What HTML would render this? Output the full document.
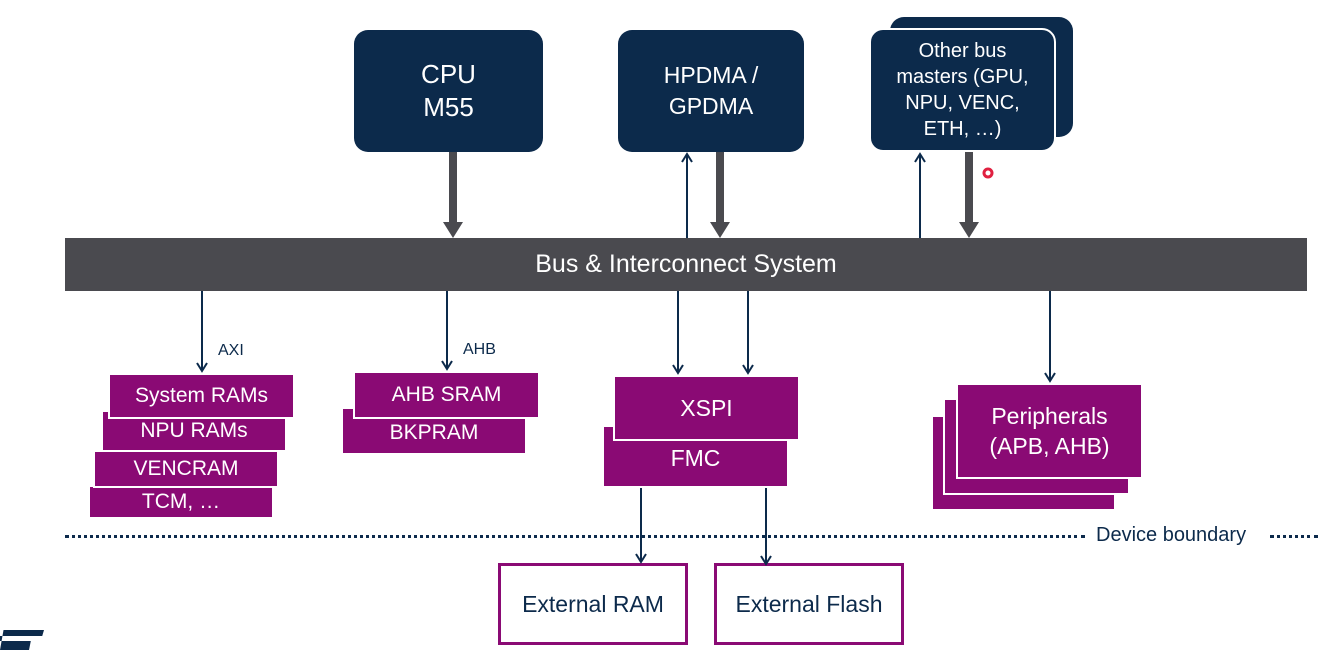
<!DOCTYPE html>
<html><head><style>
body{margin:0;width:1322px;height:650px;background:#fff;position:relative;overflow:hidden;font-family:"Liberation Sans",sans-serif}
.a{position:absolute;box-sizing:border-box}
.n{background:#0c2a4b;color:#fff;border-radius:14px;display:flex;align-items:center;justify-content:center;text-align:center}
.p{background:#8a0a74;color:#fff;border:2px solid #fff;display:flex;justify-content:center;font-size:21px}
.e{border:3px solid #8a0a74;color:#0c2a4b;display:flex;align-items:center;justify-content:center;font-size:23px;background:#fff}
</style></head><body>
<div class="a n" style="left:354px;top:30px;width:189px;height:122px;font-size:26px;line-height:33px">CPU<br>M55</div>
<div class="a n" style="left:618px;top:30px;width:186px;height:122px;font-size:23px;line-height:31px">HPDMA /<br>GPDMA</div>
<div class="a n" style="left:890px;top:17px;width:183px;height:120px"></div>
<div class="a n" style="left:869px;top:28px;width:187px;height:124px;font-size:20px;line-height:26px;border:2px solid #fff">Other bus<br>masters (GPU,<br>NPU, VENC,<br>ETH, …)</div>
<div class="a" style="left:65px;top:238px;width:1242px;height:53px;background:#4a4a4f;color:#fff;font-size:25px;display:flex;align-items:center;justify-content:center">Bus &amp; Interconnect System</div>

<div class="a p" style="left:88px;top:485px;width:186px;height:34px;align-items:center">TCM, …</div>
<div class="a p" style="left:93px;top:450px;width:186px;height:38px;align-items:center">VENCRAM</div>
<div class="a p" style="left:101px;top:410px;width:186px;height:42px;align-items:center">NPU RAMs</div>
<div class="a p" style="left:108px;top:373px;width:187px;height:46px;align-items:center">System RAMs</div>

<div class="a p" style="left:341px;top:407px;width:186px;height:48px;padding-top:12px">BKPRAM</div>
<div class="a p" style="left:353px;top:371px;width:187px;height:48px;align-items:center">AHB SRAM</div>

<div class="a p" style="left:602px;top:425px;width:187px;height:63px;padding-top:18px;font-size:23px">FMC</div>
<div class="a p" style="left:613px;top:375px;width:187px;height:66px;align-items:center;font-size:23px">XSPI</div>

<div class="a p" style="left:931px;top:415px;width:185px;height:96px"></div>
<div class="a p" style="left:943px;top:398px;width:187px;height:97px"></div>
<div class="a p" style="left:956px;top:383px;width:187px;height:96px;align-items:center;text-align:center;font-size:23px;line-height:30px">Peripherals<br>(APB, AHB)</div>

<div class="a e" style="left:498px;top:563px;width:190px;height:82px">External RAM</div>
<div class="a e" style="left:714px;top:563px;width:190px;height:82px">External Flash</div>

<div class="a" style="left:65px;top:535px;width:1020px;border-top:3px dotted #0c2a4b"></div>
<div class="a" style="left:1096px;top:524px;font-size:20px;color:#0c2a4b">Device boundary</div>
<div class="a" style="left:1270px;top:535px;width:48px;border-top:3px dotted #0c2a4b"></div>
<div class="a" style="left:218px;top:342px;font-size:16px;color:#0c2a4b">AXI</div>
<div class="a" style="left:463px;top:341px;font-size:16px;color:#0c2a4b">AHB</div>
<div class="a" style="left:0;top:630px;width:44px;height:20px;background:#0c2a4b;clip-path:polygon(8% 0,100% 0,96% 30%,0 30%,0 55%,70% 55%,66% 100%,0 100%)"></div>

<svg class="a" style="left:0;top:0" width="1322" height="650">
<defs>
<marker id="t" markerWidth="12" markerHeight="12" refX="9" refY="6" orient="auto" markerUnits="userSpaceOnUse"><path d="M1,1 L9,6 L1,11" fill="none" stroke="#0c2a4b" stroke-width="2"/></marker>
</defs>
<g fill="#4a4a4f">
<rect x="449" y="152" width="8" height="72"/><polygon points="443,222 463,222 453,238"/>
<rect x="716" y="152" width="8" height="72"/><polygon points="710,222 730,222 720,238"/>
<rect x="965" y="152" width="8" height="72"/><polygon points="959,222 979,222 969,238"/>
</g>
<g stroke="#0c2a4b" stroke-width="2" fill="none" marker-end="url(#t)">
<line x1="687" y1="238" x2="687" y2="154"/>
<line x1="920" y1="238" x2="920" y2="154"/>
<line x1="202" y1="291" x2="202" y2="371"/>
<line x1="447" y1="291" x2="447" y2="369"/>
<line x1="678" y1="291" x2="678" y2="373"/>
<line x1="748" y1="291" x2="748" y2="373"/>
<line x1="1050" y1="291" x2="1050" y2="381"/>
<line x1="641" y1="488" x2="641" y2="562"/>
<line x1="766" y1="488" x2="766" y2="564"/>
</g>
<circle cx="988" cy="173" r="4" fill="#fff" stroke="#e02040" stroke-width="3"/>
</svg>
</body></html>
